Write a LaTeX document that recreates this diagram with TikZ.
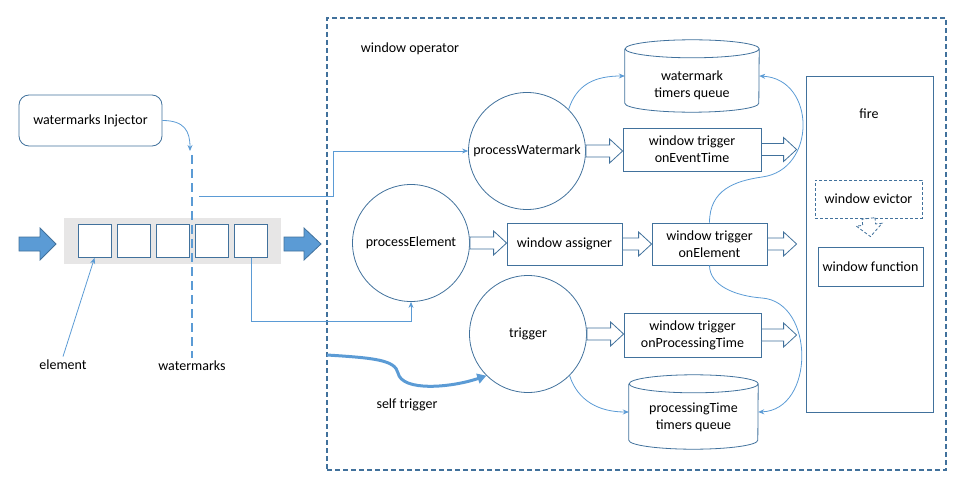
\documentclass[tikz,border=0pt]{standalone}
\usepackage{fontspec}
\setmainfont{Carlito}
\usepackage{tikz}
\usetikzlibrary{arrows.meta, positioning, calc}
\definecolor{boxblue}{HTML}{41719C}
\definecolor{linkblue}{HTML}{5B9BD5}
\definecolor{queuegray}{HTML}{E7E6E6}
\tikzset{
    every node/.style = {font=\fontsize{14}{17}\selectfont},
    box/.style = {draw=boxblue, line width=0.8pt, align=center, inner sep=0pt},
    round_box/.style = {box, rounded corners=10pt},
    dash_box/.style = {box, dash pattern=on 3pt off 2pt},
    proc/.style = {circle, draw=boxblue, line width=0.8pt,
        minimum size=117pt, inner sep=0pt},
    cyl_frame/.style = {inner sep=0pt},
    slot/.style = {box, fill=white, minimum size=33pt},
    link/.style = {draw=linkblue, line width=0.8pt, -{Stealth[length=6pt,width=5pt]}},
    hollow/.style = {draw=boxblue, line width=0.8pt, fill=white},
    solid_arrow/.style = {draw=boxblue, line width=0.8pt, fill=linkblue},
}
% block arrow: [style]{from}{to}{shaft half width}{head half width}{head length}
\newcommand{\blockarrow}[6][]{%
    \coordinate (ba_s) at (#2);
    \coordinate (ba_e) at (#3);
    \coordinate (ba_h) at ($(ba_e)!#6!(ba_s)$);
    \draw[#1] ($(ba_s)!#4!90:(ba_e)$) -- ($(ba_h)!#4!-90:(ba_s)$)
        -- ($(ba_h)!#5!-90:(ba_s)$) -- (ba_e) -- ($(ba_h)!#5!90:(ba_s)$)
        -- ($(ba_h)!#4!90:(ba_s)$) -- ($(ba_s)!#4!-90:(ba_e)$) -- cycle;}
% cylinder outline round a frame node: {node}{half width}
\newcommand{\drawcyl}[2]{%
    \draw[boxblue, line width=0.8pt] ([yshift=-9pt]#1.north west) -- ([yshift=9pt]#1.south west)
        arc[start angle=180, end angle=360, x radius=#2, y radius=9pt]
        -- ([yshift=-9pt]#1.north east)
        arc[start angle=0, end angle=360, x radius=#2, y radius=9pt];}

\begin{document}
\begin{tikzpicture}[x=1pt, y=-1pt]
        \useasboundingbox (0,0) rectangle (965,489);
        % window operator
        \node [box, line width=1.6pt, dash pattern=on 5pt off 3pt,
            minimum width=619pt, minimum height=452pt] (op) at (636.5,244) {};
        \node (op_lbl) at (410,49) {window operator};

        % input stream
        \node [round_box, minimum width=143pt, minimum height=51pt] (inj) at (90.5,120.5) {watermarks Injector};
        \node [fill=queuegray, inner sep=0pt, minimum width=217pt, minimum height=46pt] (queue) at (172.5,241) {};
        \foreach \i in {1,...,5}
            \node [slot] (q\i) at ({94.5+39.1*(\i-1)},241) {};
        \coordinate (in_tail) at (19,244);
        \coordinate (in_tip) at (56,244);
        \coordinate (out_tail) at (284,244);
        \coordinate (out_tip) at (321,244);
        \blockarrow[solid_arrow]{in_tail}{in_tip}{7pt}{16pt}{16pt}
        \blockarrow[solid_arrow]{out_tail}{out_tip}{7pt}{16pt}{17pt}

        \coordinate (wm_in) at (190,151);
        \coordinate (wm_top) at (192,155);
        \coordinate (wm_tap) at (199,196);
        \node (wm_lbl) at (192,366) {watermarks};
        \node (el_lbl) at (63,365) {element};
        \draw [draw=linkblue, line width=2.4pt, dash pattern=on 9pt off 5pt] (wm_top) -- (wm_lbl.north);
        \draw [link] (inj.east) .. controls +(22,0) and +(0,-20) .. (wm_in);
        \draw [link] (el_lbl.north) -- (q1.south);

        % processing
        \node [proc] (pw) at (527,151) {processWatermark};
        \node [proc] (pe) at (411,243) {processElement};
        \node [proc] (tr) at (528,334) {trigger};
        \draw [link] (wm_tap) -- ++(134,0) |- (pw.west);
        \draw [link] (q5.south) -- ++(0,63) -| (pe.south);

        \node [cyl_frame, minimum width=134pt, minimum height=72pt] (wq) at (692,76) {};
        \drawcyl{wq}{67pt}
        \node [align=center] (wq_txt) at ([yshift=-9pt]wq.center) {watermark\\timers queue};
        \node [cyl_frame, minimum width=129pt, minimum height=74pt] (pq) at (693.5,412) {};
        \drawcyl{pq}{64.5pt}
        \node [align=center] (pq_txt) at ([yshift=-5pt]pq.center) {processingTime\\timers queue};

        \node [box, minimum width=138pt, minimum height=43pt] (wte) at (692,149.5) {window trigger\\onEventTime};
        \node [box, minimum width=115pt, minimum height=42pt] (wa) at (564.5,244) {window assigner};
        \node [box, minimum width=115pt, minimum height=42pt] (wto) at (709.5,244) {window trigger\\onElement};
        \node [box, minimum width=137pt, minimum height=44pt] (wtp) at (692.5,335) {window trigger\\onProcessingTime};

        % fire
        \node [box, minimum width=127pt, minimum height=336pt] (fire) at (869.5,244) {};
        \node (fire_lbl) at (869,114) {fire};
        \node [dash_box, minimum width=107pt, minimum height=38pt] (ev) at (868.5,199) {window evictor};
        \node [box, minimum width=105pt, minimum height=39pt] (wf) at (870.5,266.5) {window function};
        \coordinate (fire_in) at ([xshift=-9pt]fire.west);

        \blockarrow[hollow]{pw.east}{wte.west |- pw.east}{6pt}{12pt}{13pt}
        \blockarrow[hollow]{pe.east}{wa.west |- pe.east}{6pt}{12pt}{13pt}
        \blockarrow[hollow]{wa.east}{wto.west}{6pt}{12pt}{13pt}
        \blockarrow[hollow]{tr.east}{wtp.west |- tr.east}{6pt}{12pt}{13pt}
        \blockarrow[hollow]{wte.east}{fire_in |- wte.east}{6pt}{12pt}{13pt}
        \blockarrow[hollow]{wto.east}{fire_in |- wto.east}{6pt}{12pt}{13pt}
        \blockarrow[hollow]{wtp.east}{fire_in |- wtp.east}{6pt}{12pt}{13pt}
        \blockarrow[hollow, dash pattern=on 3pt off 2pt]{ev.south}{[yshift=10pt]wf.north}{6.5pt}{13pt}{12pt}

        % timers
        \draw [link] (pw.45) .. controls +(8,-25) and +(-30,0) .. (wq.west);
        \draw [link] (tr.-45) .. controls +(8,25) and +(-30,0) .. (pq.west);
        \draw [link] (wto.north) .. controls +(0,-33) and +(-27,4) .. (762,177)
            .. controls +(55,-7) and +(57,3) .. (wq.east);
        \draw [link] (wto.south) .. controls +(0,20) and +(-27,-2) .. (762,298)
            .. controls +(53,4) and +(57,-2) .. (pq.east);

        % self trigger
        \coordinate (self_in) at (327,355);
        \draw [draw=linkblue, line width=3pt, -{Triangle[length=9pt,width=10pt]}]
            (self_in) .. controls +(48,3) and +(-3,-13) .. (398,373)
            .. controls +(4,19) and +(-35,12) .. (tr.225);
        \node (self_lbl) at (407,405) {self trigger};
\end{tikzpicture}
\end{document}
